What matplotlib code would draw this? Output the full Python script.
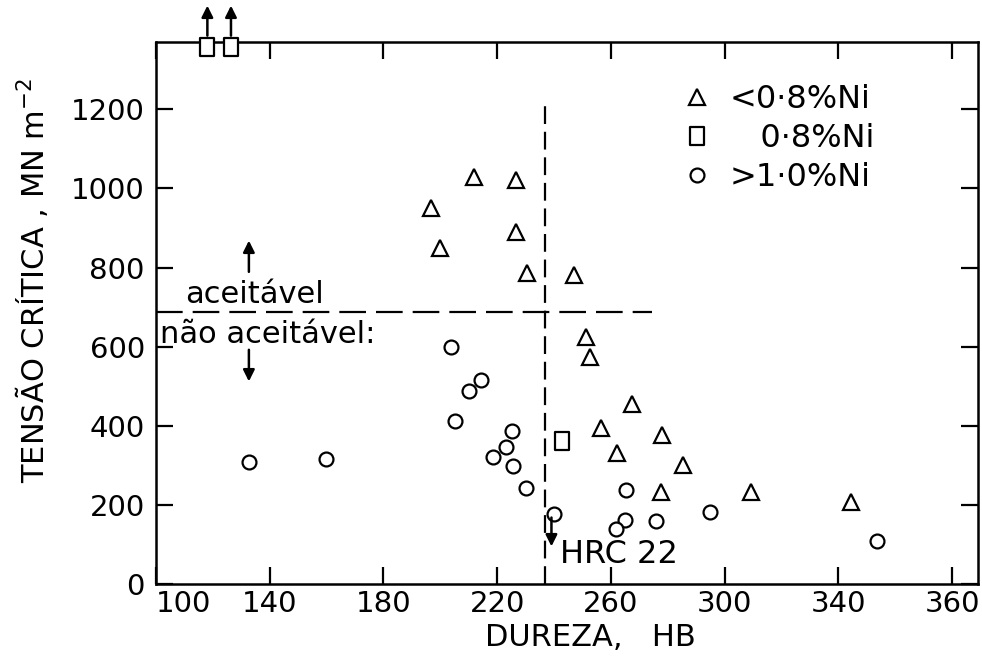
import matplotlib
matplotlib.use("Agg")
import matplotlib.pyplot as plt
from matplotlib.path import Path

# ---------------- data ----------------
tri_hb = [211.9, 226.8, 196.6, 226.5, 199.9, 230.5, 247.1, 251.1, 252.6, 267.5,
          256.7, 278.1, 262.0, 285.4, 277.8, 309.4, 344.6]
tri_val = [1030, 1021, 950, 890, 849, 785, 781, 624, 573, 455,
           394, 377, 330, 301, 233, 233, 208]

sq_hb = [242.8]
sq_val = [362]
sq_off_hb = [118.1, 126.4]      # off-scale points (arrows upward)
sq_off_val = [1358, 1358]

circ_hb = [132.8, 159.7, 203.7, 214.2, 210.2, 205.1, 225.4, 223.1, 218.6, 225.6,
           230.1, 265.2, 240.0, 264.9, 261.7, 276.0, 295.0, 353.7]
circ_val = [308, 316, 600, 516, 488, 413, 387, 347, 322, 299,
            242, 238, 177, 162, 138, 159, 183, 109]

labels = ["<0·8%Ni", "   0·8%Ni", ">1·0%Ni"]
xticks = [100, 140, 180, 220, 260, 300, 340, 380]
xticklabels = ["100", "140", "180", "220", "260", "300", "340", "360"]
yticks = [0, 200, 400, 600, 800, 1000, 1200]

limit_stress = 688   # aceitável / não aceitável
hrc22_hb = 237

# ---------------- figure ----------------
plt.rcParams['font.family'] = ['DejaVu Sans']
W, H = 982, 656
fig = plt.figure(figsize=(W / 100, H / 100), dpi=100)
L, R, T, B = 155.9, 977.7, 42, 584
ax = fig.add_axes([L / W, (H - B) / H, (R - L) / W, (B - T) / H])
ax.set_xlim(100, 389)
ax.set_ylim(0, 1370)

mk = dict(linestyle='none', markerfacecolor='white', markeredgecolor='black',
          markeredgewidth=1.6, clip_on=False, zorder=3)
rect = Path([(-0.35, -0.5), (0.35, -0.5), (0.35, 0.5), (-0.35, 0.5), (-0.35, -0.5)],
            [Path.MOVETO, Path.LINETO, Path.LINETO, Path.LINETO, Path.CLOSEPOLY])

h1, = ax.plot(tri_hb, tri_val, marker='^', markersize=12, **mk)
h2, = ax.plot(sq_hb, sq_val, marker=rect, markersize=13.5, **mk)
ax.plot(sq_off_hb, sq_off_val, marker=rect, markersize=13.5, **mk)
h3, = ax.plot(circ_hb, circ_val, marker='o', markersize=10, **mk)

for xh, yv in zip(sq_off_hb, sq_off_val):
    ax.annotate("", xy=(xh, 1462), xytext=(xh, yv + 28), annotation_clip=False,
                arrowprops=dict(arrowstyle='-|>', color='black', lw=1.8,
                                mutation_scale=17, shrinkA=0, shrinkB=0))

# reference lines
ax.plot([100, 274.6], [limit_stress, limit_stress], color='black', lw=1.6,
        linestyle=(0, (12, 4.5)), zorder=2)
ax.plot([hrc22_hb, hrc22_hb], [0, 1211], color='black', lw=1.6,
        linestyle=(0, (8, 3.5)), zorder=2)

# annotations
ax.text(110.2, 711, "aceitável", fontsize=22, va='baseline', ha='left')
ax.text(101.4, 609, "não aceitável:", fontsize=22, va='baseline', ha='left')
arr = dict(arrowstyle='-|>', color='black', lw=1.8, mutation_scale=17, shrinkA=0, shrinkB=0)
ax.annotate("", xy=(132.7, 868), xytext=(132.7, 789), arrowprops=arr)
ax.annotate("", xy=(132.7, 512), xytext=(132.7, 592), arrowprops=arr)
ax.annotate("", xy=(239.1, 95), xytext=(239.1, 168), arrowprops=arr)
ax.text(242.0, 53, "HRC 22", fontsize=23, va='baseline', ha='left')

# axes styling
for s in ax.spines.values():
    s.set_linewidth(1.8)
ax.set_xticks(xticks)
ax.set_xticklabels(xticklabels)
ax.set_yticks(yticks)
ax.tick_params(direction='in', length=12, width=1.6, top=True, right=True,
               labelsize=21)
ax.tick_params(axis='x', pad=4)
ax.tick_params(axis='y', pad=8)
ax.get_xticklabels()[0].set_ha('left')

fig.text(590 / W, 1 - 638 / H, "DUREZA,   HB", fontsize=22, ha='center', va='center')
fig.text(32 / W, 1 - 280 / H, "TENSÃO CRÍTICA , MN m$^{-2}$", fontsize=22,
         ha='center', va='center', rotation=90)

leg = ax.legend([h1, h2, h3], labels, loc='upper left',
                bbox_to_anchor=((683.25 - L) / (R - L), (B - 84) / (B - T)),
                frameon=False, fontsize=23, handlelength=0.86, handletextpad=0.6,
                borderpad=0, borderaxespad=0, labelspacing=0.25, numpoints=1)

fig.savefig("out.png", dpi=100)
